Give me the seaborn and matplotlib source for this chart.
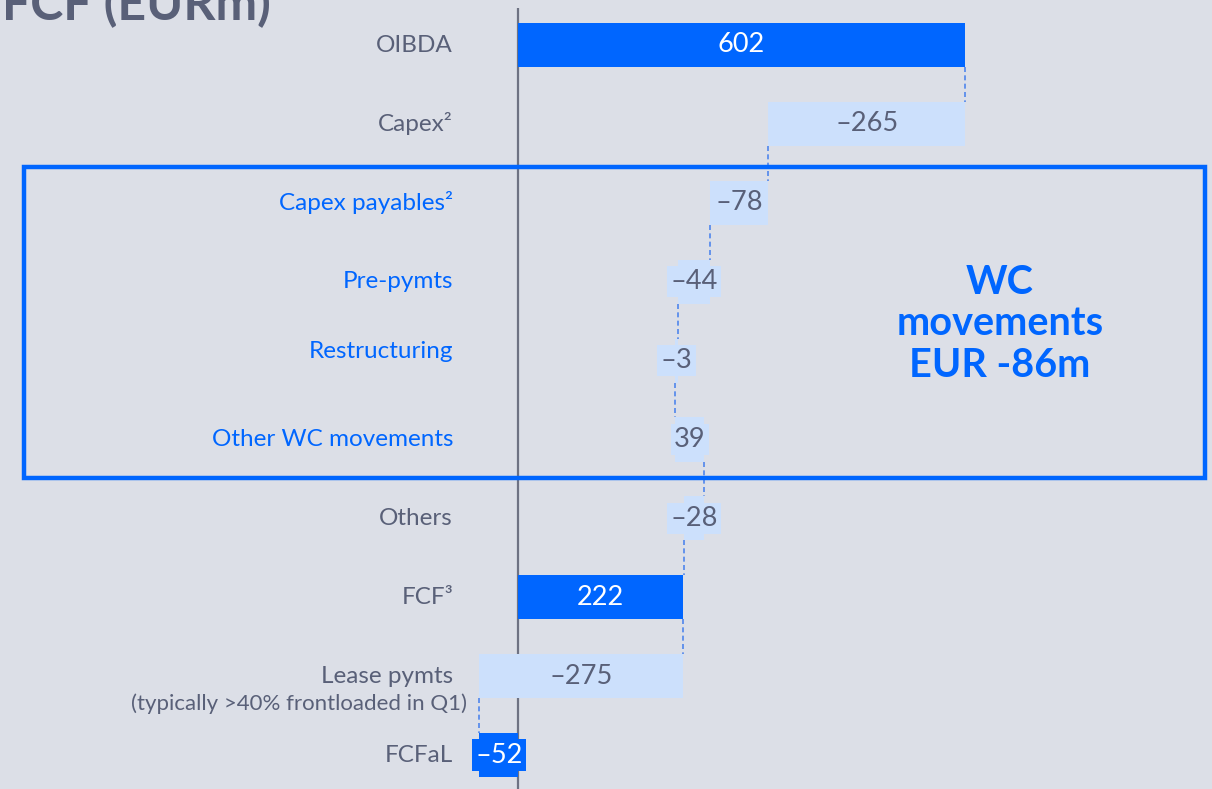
import matplotlib
matplotlib.use("Agg")
import matplotlib.pyplot as plt
import matplotlib.transforms as mtransforms
from matplotlib.patches import Rectangle
import seaborn as sns

# ---------------- data ----------------
categories = ["OIBDA", "Capex²", "Capex payables²", "Pre-pymts", "Restructuring",
              "Other WC movements", "Others", "FCF³", "Lease pymts", "FCFaL"]
values = [602, -265, -78, -44, -3, 39, -28, 222, -275, -52]
kinds = ["total", "delta", "delta", "delta", "delta", "delta", "delta",
         "total", "delta", "total"]
wc_items = ["Capex payables²", "Pre-pymts", "Restructuring", "Other WC movements"]
lease_note = "(typically >40% frontloaded in Q1)"
title = "FCF (EURm)"
wc_text = "WC\nmovements\nEUR -86m"

# ---------------- style ----------------
BG = "#dcdfe7"
DARK = "#0066ff"
LIGHT = "#cce0fc"
GRAY = "#596078"
AXIS = "#6e7283"
CONN = "#4f86ec"

sns.set_theme(style="white")
plt.rcParams["font.family"] = ["Lato", "DejaVu Sans"]

W, H = 1212, 789
fig = plt.figure(figsize=(W / 100, H / 100), dpi=100)
fig.patch.set_facecolor(BG)
ax = fig.add_axes([0, 0, 1, 1])
ax.set_facecolor(BG)

zero_px = 518
scale = 447 / 602.0  # px per unit
ax.set_xlim(-zero_px / scale, (W - zero_px) / scale)
row_px = 78.9
top_off = 45 / row_px
ax.set_ylim(H / row_px - top_off, -top_off)
ax.axis("off")

# waterfall geometry
starts, ends = [], []
level = 0
for v, k in zip(values, kinds):
    if k == "total":
        s, e = 0, v
    else:
        s, e = level, level + v
    starts.append(s)
    ends.append(e)
    level = e

bar_h = 0.56
ys = list(range(len(categories)))

# axis line
ax.vlines(0, -top_off + 8 / row_px, H / row_px, color=AXIS, lw=1.6, zorder=1)

colors = [DARK if k == "total" else LIGHT for k in kinds]
ax.barh(ys, [e - s for s, e in zip(starts, ends)], left=starts, height=bar_h,
        color=colors, edgecolor="none", zorder=2)

# connectors
for i in range(len(categories) - 1):
    ax.vlines(ends[i], i + bar_h / 2, i + 1 - bar_h / 2, color=CONN,
              lw=1.2, linestyles=(0, (3, 2)), zorder=1.5)

# value labels
for i, (s, e, v, k) in enumerate(zip(starts, ends, values, kinds)):
    txt = f"{v}".replace("-", "–")
    fc = DARK if k == "total" else LIGHT
    tc = "white" if k == "total" else GRAY
    ax.text((s + e) / 2, i, txt, ha="center", va="center", fontsize=19.5,
            color=tc, zorder=4,
            bbox=dict(boxstyle="square,pad=0.12", fc=fc, ec="none"))

# category labels
tr = mtransforms.blended_transform_factory(fig.transFigure, ax.transData)
lab_x = 453 / W
offsets = {"Restructuring": -0.11}
for i, c in enumerate(categories):
    col = DARK if c in wc_items else GRAY
    ax.text(lab_x, i + offsets.get(c, 0), c, transform=tr, ha="right",
            va="center", fontsize=17.5, color=col)
ax.text(467 / W, categories.index("Lease pymts") + 28 / row_px, lease_note,
        transform=tr, ha="right", va="center", fontsize=16, color=GRAY)

# WC box
box = Rectangle((24 / W, 1 - 478 / H), (1205 - 24) / W, (478 - 167) / H,
                transform=fig.transFigure, fill=False, ec=DARK, lw=3.2,
                zorder=5)
fig.patches.append(box)
fig.text(1000 / W, 1 - 324 / H, wc_text, ha="center", va="center",
         fontsize=28.5, fontweight="bold", color=DARK, linespacing=1.15,
         multialignment="center")

# title (clipped at top as in the original)
fig.text(2 / W, 1 - 20 / H, title, ha="left", va="baseline", fontsize=36,
         fontweight="bold", color=GRAY)

fig.savefig("out.png", dpi=100, facecolor=BG)
